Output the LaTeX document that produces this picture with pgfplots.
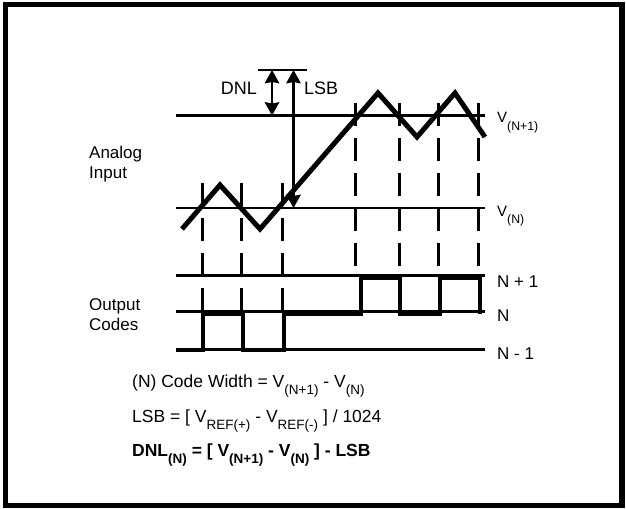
\documentclass[border=0pt]{standalone}
\usepackage{fontspec}
\setmainfont{Liberation Sans}
\usepackage{pgfplots}
\pgfplotsset{compat=1.18}
\newcommand{\sbs}[1]{\raisebox{-7bp}{\fontsize{13.5bp}{14bp}\selectfont #1}}
\newcommand{\sbr}[1]{\raisebox{-7.4bp}{\fontsize{12.3bp}{13bp}\selectfont #1}}
\begin{document}
\begin{tikzpicture}
\begin{axis}[width=626bp,height=508bp,scale only axis,
  xmin=0,xmax=626,ymin=0,ymax=508,y dir=reverse,hide axis,clip=false]
\path (axis cs:0,0) rectangle (axis cs:626,508);
\draw[line width=5.6bp] (axis cs:5.5,4.5) rectangle (axis cs:622,505.5);
% horizontal reference lines
\addplot[line width=2.5bp] coordinates {(176,115.5)(485,115.5)};
\addplot[line width=2.5bp] coordinates {(176,208)(485,208)};
\addplot[line width=2.5bp] coordinates {(176,275.5)(485,275.5)};
\addplot[line width=2.5bp] coordinates {(176,311.5)(485,311.5)};
\addplot[line width=2.5bp] coordinates {(176,349.5)(485,349.5)};
\addplot[line width=2.5bp] coordinates {(258,70)(307,70)};
% arrows (shafts and filled heads)
\addplot[line width=2.8bp] coordinates {(272,75)(272,110)};
\addplot[line width=2.8bp] coordinates {(293.5,75)(293.5,203)};
\fill (axis cs:272,70) -- (axis cs:264.5,83.5) -- (axis cs:272,82) -- (axis cs:279.5,83.5) -- cycle;
\fill (axis cs:272,115.5) -- (axis cs:264.5,102) -- (axis cs:272,103.5) -- (axis cs:279.5,102) -- cycle;
\fill (axis cs:293.5,70) -- (axis cs:286,83.5) -- (axis cs:293.5,82) -- (axis cs:301,83.5) -- cycle;
\fill (axis cs:293.5,208) -- (axis cs:286,194.5) -- (axis cs:293.5,196) -- (axis cs:301,194.5) -- cycle;
% dashed verticals
\addplot[line width=3bp,dash pattern=on 23bp off 12bp] coordinates {(202.5,183)(202.5,311)};
\addplot[line width=3bp,dash pattern=on 23bp off 12bp] coordinates {(241,183)(241,311)};
\addplot[line width=3bp,dash pattern=on 23bp off 12bp] coordinates {(282,183)(282,311)};
\addplot[line width=3bp,dash pattern=on 23bp off 12bp] coordinates {(355.5,103)(355.5,266)};
\addplot[line width=3bp,dash pattern=on 23bp off 12bp] coordinates {(399,103)(399,266)};
\addplot[line width=3bp,dash pattern=on 23bp off 12bp] coordinates {(438.5,103)(438.5,266)};
\addplot[line width=3bp,dash pattern=on 23bp off 12bp] coordinates {(478.5,103)(478.5,266)};
% analog input
\addplot[line width=5bp,line join=miter] coordinates {(182,229)(220,185)(260,229)(378,93)(417,137)(455,93)(485,137)};
% output codes
\addplot[line width=4.5bp,line join=miter] coordinates {(176,350)(203,350)(203,314)(243,314)(243,350)(284,350)(284,313.5)(361,313.5)(361,278)(400,278)(400,313.5)(440,313.5)(440,278)(480,278)(480,313.5)};
% labels
\node[anchor=base east,inner sep=0] at (axis cs:257,95) {\fontsize{18bp}{20bp}\selectfont DNL};
\node[anchor=base west,inner sep=0] at (axis cs:304,95) {\fontsize{18bp}{20bp}\selectfont LSB};
\node[anchor=base west,inner sep=0] at (axis cs:89,158.5) {\fontsize{17bp}{20bp}\selectfont Analog};
\node[anchor=base west,inner sep=0] at (axis cs:89,178.5) {\fontsize{17bp}{20bp}\selectfont Input};
\node[anchor=base west,inner sep=0] at (axis cs:89,310) {\fontsize{17bp}{20bp}\selectfont Output};
\node[anchor=base west,inner sep=0] at (axis cs:89,330) {\fontsize{17bp}{20bp}\selectfont Codes};
\node[anchor=base west,inner sep=0] at (axis cs:497,123) {\fontsize{15bp}{18bp}\selectfont V\sbr{(N+1)}};
\node[anchor=base west,inner sep=0] at (axis cs:497,216) {\fontsize{15bp}{18bp}\selectfont V\sbr{(N)}};
\node[anchor=base west,inner sep=0] at (axis cs:497,287.5) {\fontsize{17bp}{20bp}\selectfont N + 1};
\node[anchor=base west,inner sep=0] at (axis cs:497,321) {\fontsize{17bp}{20bp}\selectfont N};
\node[anchor=base west,inner sep=0] at (axis cs:497,359) {\fontsize{17bp}{20bp}\selectfont N - 1};
\node[anchor=base west,inner sep=0] at (axis cs:132,387.5) {\fontsize{17.5bp}{20bp}\selectfont (N) Code Width = V\sbs{(N+1)} - V\sbs{(N)}};
\node[anchor=base west,inner sep=0] at (axis cs:132,422) {\fontsize{17.5bp}{20bp}\selectfont LSB = [ V\sbs{REF(+)} - V\sbs{REF(-)} ] / 1024};
\node[anchor=base west,inner sep=0] at (axis cs:132,456.5) {\fontsize{17.5bp}{20bp}\selectfont\bfseries DNL\sbs{(N)} = [ V\sbs{(N+1)} - V\sbs{(N)} ] - LSB};
\end{axis}
\end{tikzpicture}
\end{document}
